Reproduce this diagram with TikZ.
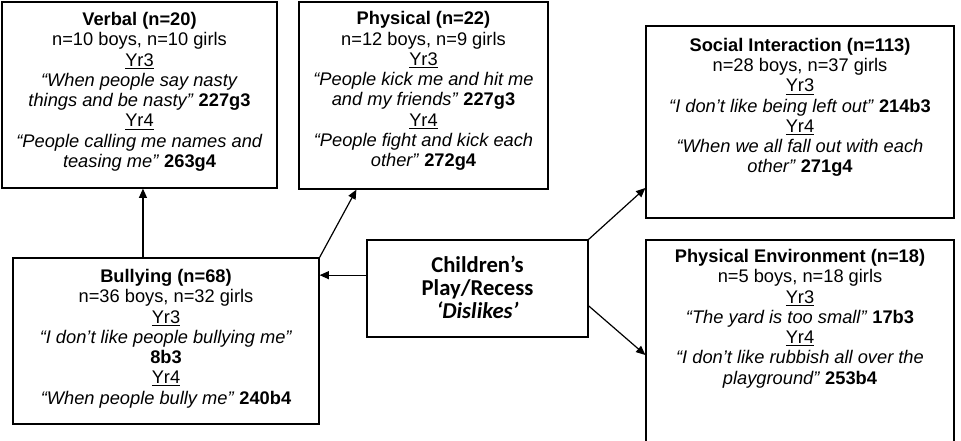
\documentclass[tikz,border=0pt]{standalone}
\usepackage{fontspec}
\setmainfont{Liberation Sans}
\newfontfamily\calibfont{Carlito}
\usetikzlibrary{positioning,fit,arrows.meta}
\tikzset{
  box/.style={draw,line width=0.9pt,inner sep=0pt},
  txt/.style={align=center,inner sep=0pt,anchor=north,font=\fontsize{13.7}{15.2}\selectfont},
  arr/.style={line width=0.9pt,-{Triangle[length=7pt,width=6pt]}}
}
\newcommand{\yr}[1]{\underline{#1}}
\newcommand{\quo}[1]{\textit{#1}}
\begin{document}
\begin{tikzpicture}[x=0.75pt,y=-0.75pt]
\clip (0,0) rectangle (961,440);
% boxes
\node[box,fit={(2,2) (277,188)}] (verbal) {};
\node[box,fit={(299,2) (548,189)}] (phys) {};
\node[box,fit={(646,26) (954,218)}] (social) {};
\node[box,fit={(646,240) (954,450)}] (physenv) {};
\node[box,fit={(13,258) (319,424)}] (bully) {};
\node[box,fit={(367,240) (588,337)}] (dislikes) {};
% texts
\node[txt,below=8pt of verbal.north] (verbaltxt) {\textbf{Verbal (n=20)}\\n=10 boys, n=10 girls\\\yr{Yr3}\\
  \quo{“When people say nasty}\\\quo{things and be nasty”} \textbf{227g3}\\\yr{Yr4}\\
  \quo{“People calling me names and}\\\quo{teasing me”} \textbf{263g4}};
\node[txt,below=7.4pt of phys.north] (phystxt) {\textbf{Physical (n=22)}\\n=12 boys, n=9 girls\\\yr{Yr3}\\
  \quo{“People kick me and hit me}\\\quo{and my friends”} \textbf{227g3}\\\yr{Yr4}\\
  \quo{“People fight and kick each}\\\quo{other”} \textbf{272g4}};
\node[txt,below=9.3pt of social.north] (socialtxt) {\textbf{Social Interaction (n=113)}\\n=28 boys, n=37 girls\\\yr{Yr3}\\
  \quo{“I don’t like being left out”} \textbf{214b3}\\\yr{Yr4}\\
  \quo{“When we all fall out with each}\\\quo{other”} \textbf{271g4}};
\node[txt,below=7.2pt of physenv.north] (physenvtxt) {\textbf{Physical Environment (n=18)}\\n=5 boys, n=18 girls\\\yr{Yr3}\\
  \quo{“The yard is too small”} \textbf{17b3}\\\yr{Yr4}\\
  \quo{“I don’t like rubbish all over the}\\\quo{playground”} \textbf{253b4}};
\node[txt,below=8.7pt of bully.north] (bullytxt) {\textbf{Bullying (n=68)}\\n=36 boys, n=32 girls\\\yr{Yr3}\\
  \quo{“I don’t like people bullying me”}\\\textbf{8b3}\\\yr{Yr4}\\
  \quo{“When people bully me”} \textbf{240b4}};
\node[align=center,inner sep=0pt,font=\calibfont\bfseries\fontsize{17}{17.5}\selectfont]
  (dislikestxt) at ([yshift=1pt]dislikes.center) {Children’s\\Play/Recess\\\textit{‘Dislikes’}};
% connectors
\draw[arr] ([xshift=2.6pt]verbal.south |- bully.north) -- ([xshift=2.6pt]verbal.south);
\draw[arr] (bully.north east) -- ([xshift=43.5pt]phys.south west);
\draw[arr] ([yshift=10pt]dislikes.west) -- ([yshift=10pt]dislikes.west -| bully.east);
\draw[arr] (dislikes.north east) -- ([yshift=-49.5pt]social.west);
\draw[arr] ([yshift=-13pt]dislikes.east) -- ([yshift=-7.5pt]physenv.west);
\end{tikzpicture}
\end{document}
